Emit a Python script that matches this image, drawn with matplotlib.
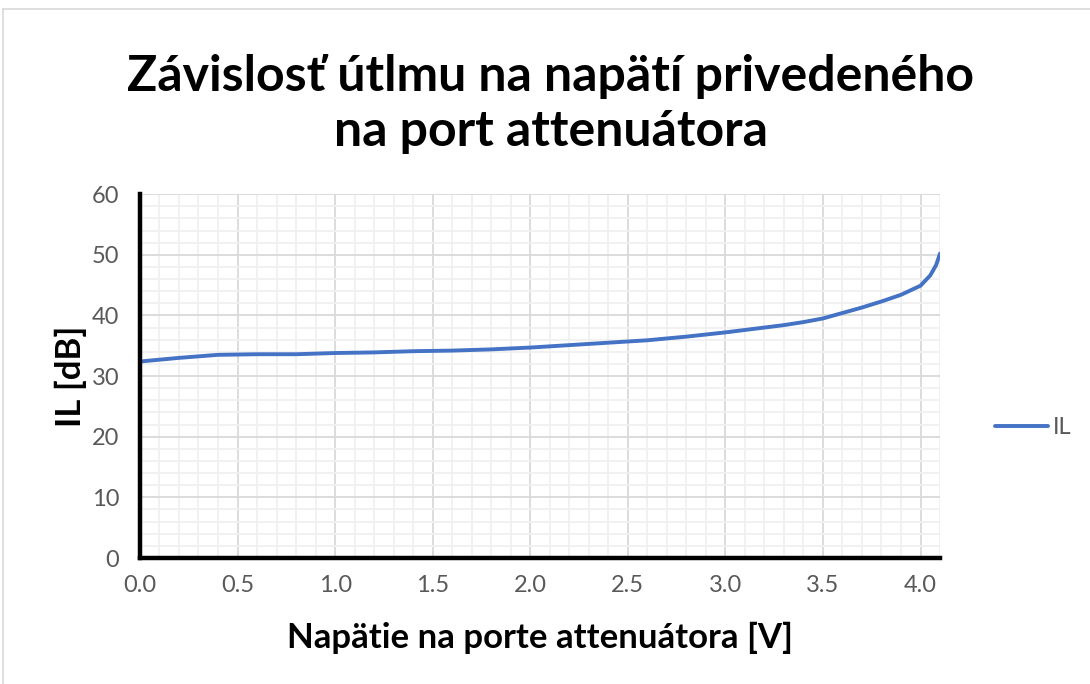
import matplotlib.pyplot as plt
from matplotlib.ticker import MultipleLocator

# measured attenuation vs. control voltage
voltage = [0.0, 0.2, 0.4, 0.6, 0.8, 1.0, 1.2, 1.4, 1.6, 1.8, 2.0, 2.2, 2.4, 2.6, 2.8,
           3.0, 3.1, 3.2, 3.3, 3.4, 3.5, 3.6, 3.7, 3.8, 3.9, 4.0, 4.05, 4.08, 4.1]
il_db = [32.4, 33.0, 33.5, 33.6, 33.6, 33.8, 33.9, 34.1, 34.2, 34.4, 34.7, 35.1, 35.5, 35.9, 36.5,
         37.2, 37.6, 38.0, 38.4, 38.9, 39.5, 40.4, 41.3, 42.3, 43.4, 44.9, 46.6, 48.3, 50.2]

plt.rcParams['font.family'] = ['Lato', 'DejaVu Sans']

fig = plt.figure(figsize=(10.9, 6.84), dpi=100)
ax = fig.add_axes([0.1284, 0.1842, 0.734, 0.532])

ax.plot(voltage, il_db, color='#4472C4', linewidth=2.8, label='IL',
        solid_capstyle='round', solid_joinstyle='round')

ax.set_xlim(0, 4.1)
ax.set_ylim(0, 60)
ax.xaxis.set_major_locator(MultipleLocator(0.5))
ax.xaxis.set_minor_locator(MultipleLocator(0.1))
ax.yaxis.set_major_locator(MultipleLocator(10))
ax.yaxis.set_minor_locator(MultipleLocator(2))
ax.xaxis.set_major_formatter(plt.FormatStrFormatter('%.1f'))

ax.grid(which='major', color='#d9d9d9', linewidth=1.3)
ax.grid(which='minor', color='#f0f0f0', linewidth=1.3)
ax.set_axisbelow(True)

for s in ['top', 'right']:
    ax.spines[s].set_visible(False)
for s in ['left', 'bottom']:
    ax.spines[s].set_linewidth(3.2)
    ax.spines[s].set_color('black')

ax.tick_params(which='both', length=0)
ax.tick_params(axis='both', labelsize=17, labelcolor='#595959')
ax.tick_params(axis='x', pad=12)
ax.tick_params(axis='y', pad=15)

# axis titles and chart title
fig.text(540 / 1090, 1 - 638 / 684, 'Napätie na porte attenuátora [V]',
         ha='center', va='center', fontsize=25, fontweight='bold')
fig.text(71 / 1090, 1 - 376 / 684, 'IL [dB]', rotation=90,
         ha='center', va='center', fontsize=25, fontweight='bold')
fig.text(551 / 1090, 1 - 104 / 684, 'Závislosť útlmu na napätí privedeného\nna port attenuátora',
         ha='center', va='center', fontsize=36, fontweight='bold', linespacing=1.27)

leg = fig.legend(loc='center left', bbox_to_anchor=(995 / 1090, 1 - 428 / 684), frameon=False,
                 fontsize=17, handlelength=2.25, handletextpad=0.2, borderpad=0, borderaxespad=0)
for t in leg.get_texts():
    t.set_color('#595959')

# thin outer frame of the chart area
fig.add_artist(plt.Line2D([0.003, 0.003], [0.0, 0.987], color='#d9d9d9', linewidth=1.2))
fig.add_artist(plt.Line2D([0.003, 1.0], [0.987, 0.987], color='#d9d9d9', linewidth=1.2))

fig.savefig('out.png', dpi=100)
